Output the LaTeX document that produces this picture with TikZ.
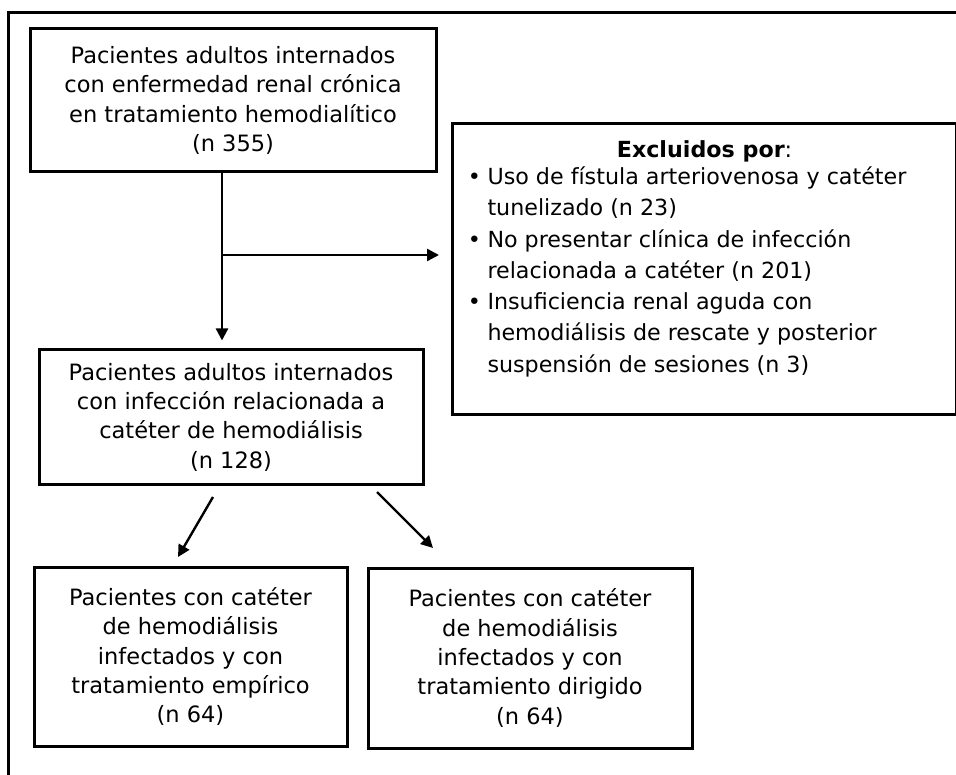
\documentclass[tikz,border=0pt]{standalone}
\usepackage{fontspec}
\setmainfont{DejaVu Sans}
\usetikzlibrary{arrows.meta}
\begin{document}
\begin{tikzpicture}[x=1pt,y=-1pt,
  frame/.style={line width=3pt},
  box/.style={draw, line width=3pt, inner sep=0pt, align=center,
    font=\fontsize{22.5}{29.3}\selectfont},
  arr/.style={line width=2.4pt, -{Triangle[length=12pt,width=12pt]}}]
\useasboundingbox (0,0) rectangle (956,775);
% outer frame (top and left only)
\draw[frame] (956,13) -- (8,13) -- (8,775);
% boxes
\node[box, minimum width=406pt, minimum height=143pt] (b1) at (233,100.5)
  {Pacientes adultos internados\\con enfermedad renal crónica\\en tratamiento hemodialítico\\(n 355)};
\node[box, minimum width=384pt, minimum height=134pt] (b2) at (231,417)
  {Pacientes adultos internados\\con infección relacionada a\\catéter de hemodiálisis\\(n 128)};
\node[box, minimum width=313pt, minimum height=179pt] (b4) at (190.5,656.5)
  {Pacientes con catéter\\de hemodiálisis\\infectados y con\\tratamiento empírico\\(n 64)};
\node[box, minimum width=324pt, minimum height=180pt] (b5) at (530,658)
  {Pacientes con catéter\\de hemodiálisis\\infectados y con\\tratamiento dirigido\\(n 64)};
\node[draw, line width=3pt, inner sep=0pt, anchor=north west] (ex) at (451,122)
  {\parbox[c][291pt][t]{504pt}{\fontsize{22.2}{31.3}\selectfont
   \vspace*{14pt}%
   \makebox[504pt][c]{\rule{0pt}{20pt}\textbf{Excluidos por}:}\par\vspace{-4.3pt}
   \makebox[35pt][l]{\hspace{15.4pt}•}Uso de fístula arteriovenosa y catéter\par
   \hspace*{35pt}tunelizado (n 23)\par
   \makebox[35pt][l]{\hspace{15.4pt}•}No presentar clínica de infección\par
   \hspace*{35pt}relacionada a catéter (n 201)\par
   \makebox[35pt][l]{\hspace{15.4pt}•}Insuficiencia renal aguda con\par
   \hspace*{35pt}hemodiálisis de rescate y posterior\par
   \hspace*{35pt}suspensión de sesiones (n 3)\par}};
% connectors
\coordinate (vx) at (222,0);
\coordinate (hj) at (223,255);
\draw[arr, shorten >=8pt] (b1.south -| vx) -- (b2.north -| vx);
\draw[arr, shorten >=12pt] (hj) -- (ex.west |- hj);
\coordinate (d1s) at (213,497);
\coordinate (d1e) at (178,557);
\coordinate (d2s) at (377,492);
\coordinate (d2e) at (433,548);
\draw[arr] (d1s) -- (d1e);
\draw[arr] (d2s) -- (d2e);
\end{tikzpicture}
\end{document}
